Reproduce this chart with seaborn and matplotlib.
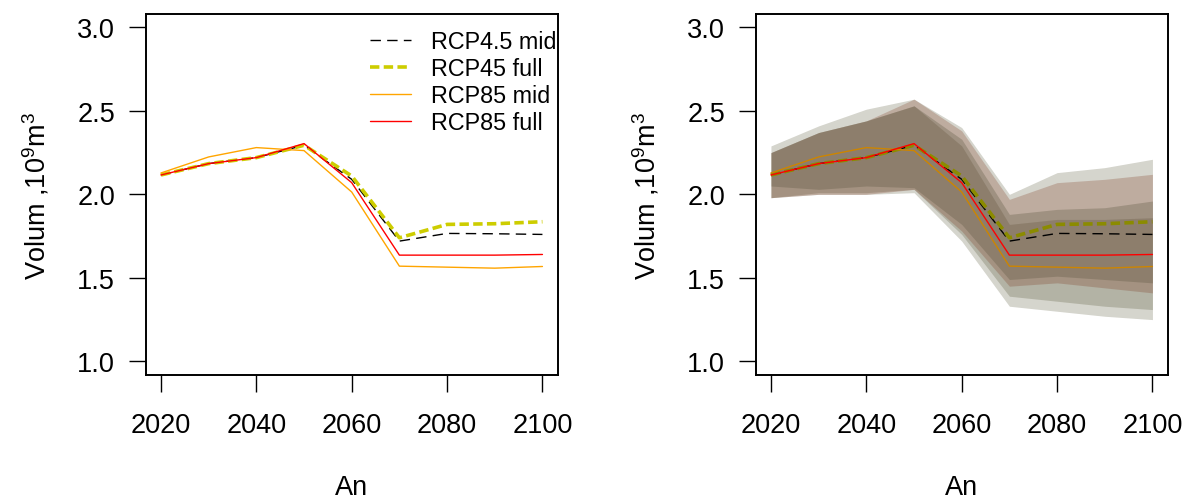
import matplotlib
matplotlib.use("Agg")
import matplotlib.pyplot as plt
import seaborn as sns
import numpy as np

# ---- data ----
years = [2020, 2030, 2040, 2050, 2060, 2070, 2080, 2090, 2100]

rcp45_mid = [2.116, 2.184, 2.220, 2.294, 2.090, 1.720, 1.766, 1.764, 1.760]
rcp45_full = [2.116, 2.184, 2.220, 2.294, 2.110, 1.740, 1.820, 1.824, 1.836]
rcp85_mid = [2.128, 2.224, 2.280, 2.262, 2.014, 1.570, 1.564, 1.558, 1.568]
rcp85_full = [2.116, 2.184, 2.220, 2.304, 2.070, 1.636, 1.636, 1.636, 1.640]

# ranges (right panel)
rcp45_full_hi = [2.29, 2.41, 2.51, 2.57, 2.40, 2.00, 2.13, 2.16, 2.21]
rcp45_full_lo = [1.98, 2.00, 2.00, 2.01, 1.72, 1.33, 1.30, 1.27, 1.25]
rcp45_mid_hi = [2.25, 2.37, 2.44, 2.53, 2.29, 1.82, 1.85, 1.85, 1.86]
rcp45_mid_lo = [1.98, 2.01, 2.01, 2.03, 1.76, 1.39, 1.36, 1.33, 1.31]
rcp85_full_hi = [2.25, 2.37, 2.44, 2.57, 2.38, 1.97, 2.07, 2.09, 2.12]
rcp85_full_lo = [1.98, 2.00, 2.00, 2.03, 1.78, 1.45, 1.47, 1.44, 1.41]
rcp85_mid_hi = [2.25, 2.37, 2.44, 2.53, 2.33, 1.88, 1.91, 1.92, 1.96]
rcp85_mid_lo = [2.05, 2.03, 2.05, 2.04, 1.82, 1.49, 1.51, 1.49, 1.47]

labels = ["RCP4.5 mid", "RCP45 full", "RCP85 mid", "RCP85 full"]
x_ticks = [2020, 2040, 2060, 2080, 2100]
y_ticks = [1.0, 1.5, 2.0, 2.5, 3.0]
y_ticklabels = ["1.0", "1.5", "2.0", "2.5", "3.0"]

sns.set_style("white")
plt.rcParams["font.family"] = ["Liberation Sans", "DejaVu Sans"]
plt.rcParams["mathtext.fontset"] = "custom"
plt.rcParams["mathtext.rm"] = "Liberation Sans"
plt.rcParams["mathtext.it"] = "Liberation Sans"
plt.rcParams["text.color"] = "black"
plt.rcParams["axes.labelcolor"] = "black"
plt.rcParams["xtick.color"] = "black"
plt.rcParams["ytick.color"] = "black"

fig = plt.figure(figsize=(11.83, 5.02), dpi=100)
W, H = 1183, 502
def axrect(l, r, t, b):
    return [l / W, 1 - b / H, (r - l) / W, (b - t) / H]

ax1 = fig.add_axes(axrect(145.7, 557.7, 15, 375.7))
ax2 = fig.add_axes(axrect(755.7, 1167.7, 15, 375.7))

FS = 19.5
LFS = 16.8

def style_axes(ax):
    ax.set_xlim(2016.8, 2103.2)
    ax.set_ylim(0.92, 3.08)
    ax.set_xticks(x_ticks)
    ax.set_xticklabels([str(t) for t in x_ticks])
    ax.set_yticks(y_ticks)
    ax.set_yticklabels(y_ticklabels)
    for s in ax.spines.values():
        s.set_visible(True)
        s.set_color("black")
        s.set_linewidth(1.4)
    ax.tick_params(axis="both", direction="out", length=12, width=1.0,
                   color="black", labelsize=FS, labelcolor="black",
                   bottom=True, left=True)
    ax.tick_params(axis="x", pad=15)
    ax.tick_params(axis="y", pad=10)
    ax.set_xlabel("An", fontsize=FS, color="black")
    ax.set_ylabel("Volum ,10$^9$m$^3$", fontsize=FS, color="black")
    ax.xaxis.set_label_coords(0.5, -0.31)
    ax.xaxis.label.set_va("center")
    ax.yaxis.set_label_coords(-0.265, 0.5)
    ax.yaxis.label.set_va("center")
    ax.grid(False)

black_dash = (0, (7.5, 4.5))
olive_dash = (0, (2.6, 1.2))

# ---- left panel ----
sns.lineplot(x=years, y=rcp45_mid, ax=ax1, color="black", lw=1.0,
             linestyle=black_dash, label=labels[0])
sns.lineplot(x=years, y=rcp45_full, ax=ax1, color="#CDCD00", lw=2.6,
             linestyle=olive_dash, label=labels[1])
sns.lineplot(x=years, y=rcp85_mid, ax=ax1, color="#FFA500", lw=1.0,
             label=labels[2])
sns.lineplot(x=years, y=rcp85_full, ax=ax1, color="#FF0000", lw=1.0,
             label=labels[3])
style_axes(ax1)
handles, labs = ax1.get_legend_handles_labels()
ax1.legend(handles, labs, loc="upper left", bbox_to_anchor=(0.5444, 0.956),
           frameon=False, fontsize=LFS, borderpad=0, borderaxespad=0,
           handlelength=1.75, handletextpad=0.85, labelspacing=0.17)

# ---- right panel ----
ax2.fill_between(years, rcp45_full_lo, rcp45_full_hi, color=(45/255, 45/255, 5/255),
                 alpha=0.2, linewidth=0)
ax2.fill_between(years, rcp45_mid_lo, rcp45_mid_hi, color=(45/255, 45/255, 5/255),
                 alpha=0.2, linewidth=0)
ax2.fill_between(years, rcp85_full_lo, rcp85_full_hi, color=(122/255, 50/255, 25/255),
                 alpha=0.25, linewidth=0)
ax2.fill_between(years, rcp85_mid_lo, rcp85_mid_hi, color=(88/255, 83/255, 60/255),
                 alpha=0.3, linewidth=0)
sns.lineplot(x=years, y=rcp45_mid, ax=ax2, color="black", lw=1.0,
             linestyle=black_dash, legend=False)
sns.lineplot(x=years, y=rcp45_full, ax=ax2, color="#8B8B00", lw=2.6,
             linestyle=olive_dash, legend=False)
sns.lineplot(x=years, y=rcp85_mid, ax=ax2, color="#CD8500", lw=1.0, legend=False)
sns.lineplot(x=years, y=rcp85_full, ax=ax2, color="#FF0000", lw=1.0, legend=False)
style_axes(ax2)
if ax2.get_legend() is not None:
    ax2.get_legend().remove()

fig.savefig("out.png", dpi=100)
